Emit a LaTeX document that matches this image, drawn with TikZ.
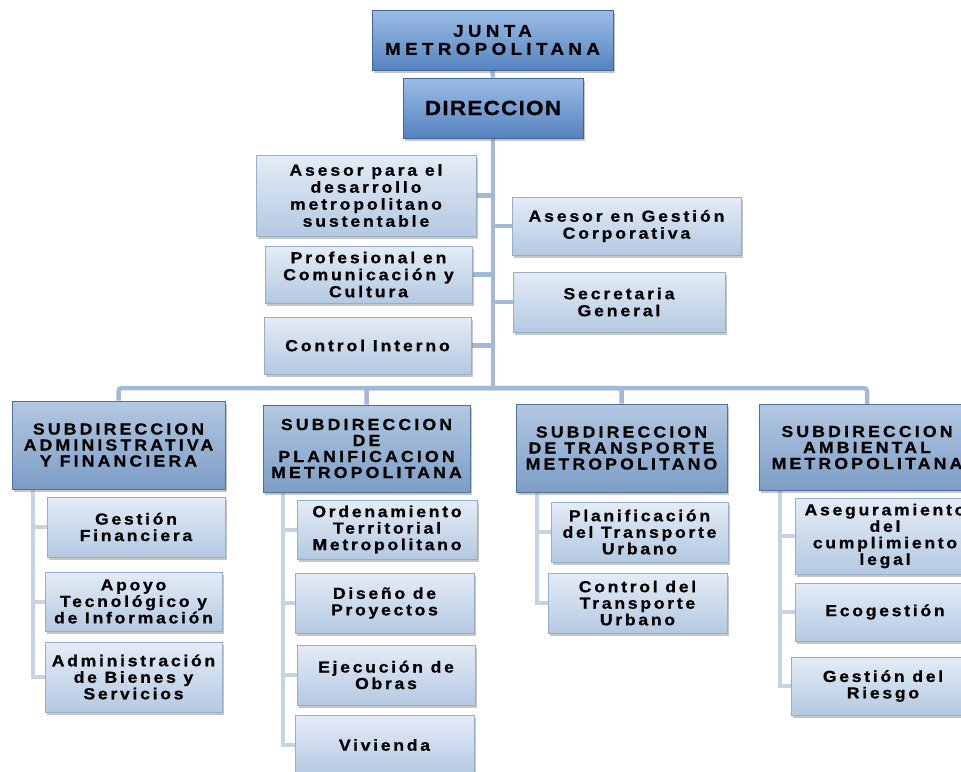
\documentclass[tikz,border=0pt]{standalone}
\usepackage{fontspec}
\newfontfamily\orgfont{Liberation Sans Bold}[FakeStretch=1.1, FakeBold=0.8]
\usetikzlibrary{shadows,backgrounds}

\definecolor{headtop}{HTML}{9DBDE6}
\definecolor{headmid}{HTML}{6A97D2}
\definecolor{headbot}{HTML}{5583C0}
\definecolor{headline}{HTML}{3F6699}
\definecolor{subtop}{HTML}{B3C8E2}
\definecolor{submid}{HTML}{8EABD0}
\definecolor{subbot}{HTML}{7C9DC6}
\definecolor{subline}{HTML}{4F719C}
\definecolor{unittop}{HTML}{E4ECF6}
\definecolor{unitmid}{HTML}{C8D8EC}
\definecolor{unitbot}{HTML}{B4C9E2}
\definecolor{unitline}{HTML}{98ADC8}
\definecolor{trunkcol}{HTML}{A3B9D8}
\definecolor{branchcol}{HTML}{C6D3E5}

\tikzset{
  orgbox/.style={draw, rectangle, inner sep=0pt, align=center,
    drop shadow={shadow xshift=2pt, shadow yshift=-2.5pt, opacity=0.45}},
  headbox/.style={orgbox, draw=headline, line width=0.8pt,
    top color=headtop, middle color=headmid, bottom color=headbot},
  subbox/.style={orgbox, draw=subline, line width=0.8pt,
    top color=subtop, middle color=submid, bottom color=subbot},
  unitbox/.style={orgbox, draw=unitline, line width=0.7pt,
    top color=unittop, middle color=unitmid, bottom color=unitbot},
  trunk/.style={draw=trunkcol, line width=4.5pt, rounded corners=3pt},
  branch/.style={draw=branchcol, line width=4pt},
  topfont/.style={font=\orgfont\addfontfeature{LetterSpace=26}\fontsize{17}{18}\selectfont},
  subfont/.style={font=\orgfont\addfontfeature{LetterSpace=20}\fontsize{16}{16}\selectfont},
  advfont/.style={font=\orgfont\addfontfeature{LetterSpace=18}\fontsize{16}{17}\selectfont},
  unitfont/.style={font=\orgfont\addfontfeature{LetterSpace=17}\fontsize{16}{16.5}\selectfont}
}

\begin{document}
\begin{tikzpicture}[x=1pt, y=-1pt]
    % Fix page size
    \useasboundingbox (0,0) rectangle (961,771);
    \clip (0,0) rectangle (961,771);

    % Top of the chart
    \node[headbox, topfont, minimum width=241, minimum height=60] (junta) at (492.5,40) {JUNTA\\METROPOLITANA};
    \node[headbox, font=\orgfont\addfontfeature{LetterSpace=6}\fontsize{20.5}{20}\selectfont, minimum width=180, minimum height=60] (direccion) at (493,108) {DIRECCION};

    % Advisors around the trunk
    \node[unitbox, advfont, minimum width=220, minimum height=81] (asesorDes) at (366,195.5) {Asesor para el\\desarrollo\\metropolitano\\sustentable};
    \node[unitbox, advfont, minimum width=207, minimum height=57] (profesional) at (368.5,274.5) {Profesional en\\Comunicación y\\Cultura};
    \node[unitbox, advfont, minimum width=207, minimum height=57] (controlInt) at (367.5,345.5) {Control Interno};
    \node[unitbox, advfont, minimum width=229, minimum height=58] (asesorGes) at (626.5,226) {Asesor en Gestión\\Corporativa};
    \node[unitbox, advfont, minimum width=212, minimum height=60] (secretaria) at (619,302) {Secretaria\\General};

    % Subdirections
    \node[subbox, subfont, minimum width=213, minimum height=88] (subAdm) at (118.5,445) {SUBDIRECCION\\ADMINISTRATIVA\\Y FINANCIERA};
    \node[subbox, subfont, minimum width=207, minimum height=87] (subPla) at (366.5,448.5) {SUBDIRECCION\\DE\\PLANIFICACION\\METROPOLITANA};
    \node[subbox, subfont, minimum width=211, minimum height=88] (subTra) at (621.5,448) {SUBDIRECCION\\DE TRANSPORTE\\METROPOLITANO};
    \node[subbox, subfont, minimum width=216, minimum height=86] (subAmb) at (867,447.5) {SUBDIRECCION\\AMBIENTAL\\METROPOLITANA};

    % Units under each subdirection
    \node[unitbox, unitfont, minimum width=178, minimum height=60] (gesFin) at (136,527) {Gestión\\Financiera};
    \node[unitbox, unitfont, minimum width=177, minimum height=59] (apoyoTec) at (133.5,601.5) {Apoyo\\Tecnológico y\\de Información};
    \node[unitbox, unitfont, minimum width=177, minimum height=70] (admBie) at (133.5,677) {Administración\\de Bienes y\\Servicios};

    \node[unitbox, unitfont, minimum width=180, minimum height=59] (ordTer) at (387,529.5) {Ordenamiento\\Territorial\\Metropolitano};
    \node[unitbox, unitfont, minimum width=179, minimum height=60] (disPro) at (384.5,603) {Diseño de\\Proyectos};
    \node[unitbox, unitfont, minimum width=178, minimum height=60] (ejeObr) at (386,675) {Ejecución de\\Obras};
    \node[unitbox, unitfont, minimum width=179, minimum height=60] (vivienda) at (384.5,745) {Vivienda};

    \node[unitbox, unitfont, minimum width=177, minimum height=60] (plaTra) at (639.5,532) {Planificación\\del Transporte\\Urbano};
    \node[unitbox, unitfont, minimum width=179, minimum height=60] (conTra) at (637.5,603) {Control del\\Transporte\\Urbano};

    \node[unitbox, unitfont, minimum width=180, minimum height=76] (asegLeg) at (885,536) {Aseguramiento\\del\\cumplimiento\\legal};
    \node[unitbox, unitfont, minimum width=180, minimum height=58] (ecogestion) at (885,612) {Ecogestión};
    \node[unitbox, unitfont, minimum width=184, minimum height=58] (gesRie) at (883,686) {Gestión del\\Riesgo};

    \begin{scope}[on background layer]
    % Trunk, bus and advisor stubs
    \coordinate (bus) at (493,388);
    \draw[trunk] (junta.south) -- (direccion.north);
    \draw[trunk] (direccion.south) -- (bus);
    \draw[trunk] (asesorDes.east) -- (asesorDes.east -| bus);
    \draw[trunk] (profesional.east) -- (profesional.east -| bus);
    \draw[trunk] (controlInt.east) -- (controlInt.east -| bus);
    \draw[trunk] (asesorGes.west) -- (asesorGes.west -| bus);
    \draw[trunk] (secretaria.west) -- (secretaria.west -| bus);
    \draw[trunk] (subAdm.north) |- (bus) -| (subAmb.north);
    \draw[trunk] (subPla.north) |- (bus);
    \draw[trunk] (subTra.north) |- (bus);

    % Spines under the subdirections
    \draw[branch] ([xshift=21pt]subAdm.south west) |- (gesFin.west);
    \draw[branch] ([xshift=21pt]subAdm.south west) |- (apoyoTec.west);
    \draw[branch] ([xshift=21pt]subAdm.south west) |- (admBie.west);
    \draw[branch] ([xshift=20pt]subPla.south west) |- (ordTer.west);
    \draw[branch] ([xshift=20pt]subPla.south west) |- (disPro.west);
    \draw[branch] ([xshift=20pt]subPla.south west) |- (ejeObr.west);
    \draw[branch] ([xshift=20pt]subPla.south west) |- (vivienda.west);
    \draw[branch] ([xshift=21pt]subTra.south west) |- (plaTra.west);
    \draw[branch] ([xshift=21pt]subTra.south west) |- (conTra.west);
    \draw[branch] ([xshift=21pt]subAmb.south west) |- (asegLeg.west);
    \draw[branch] ([xshift=21pt]subAmb.south west) |- (ecogestion.west);
    \draw[branch] ([xshift=21pt]subAmb.south west) |- (gesRie.west);
    \end{scope}
\end{tikzpicture}
\end{document}
